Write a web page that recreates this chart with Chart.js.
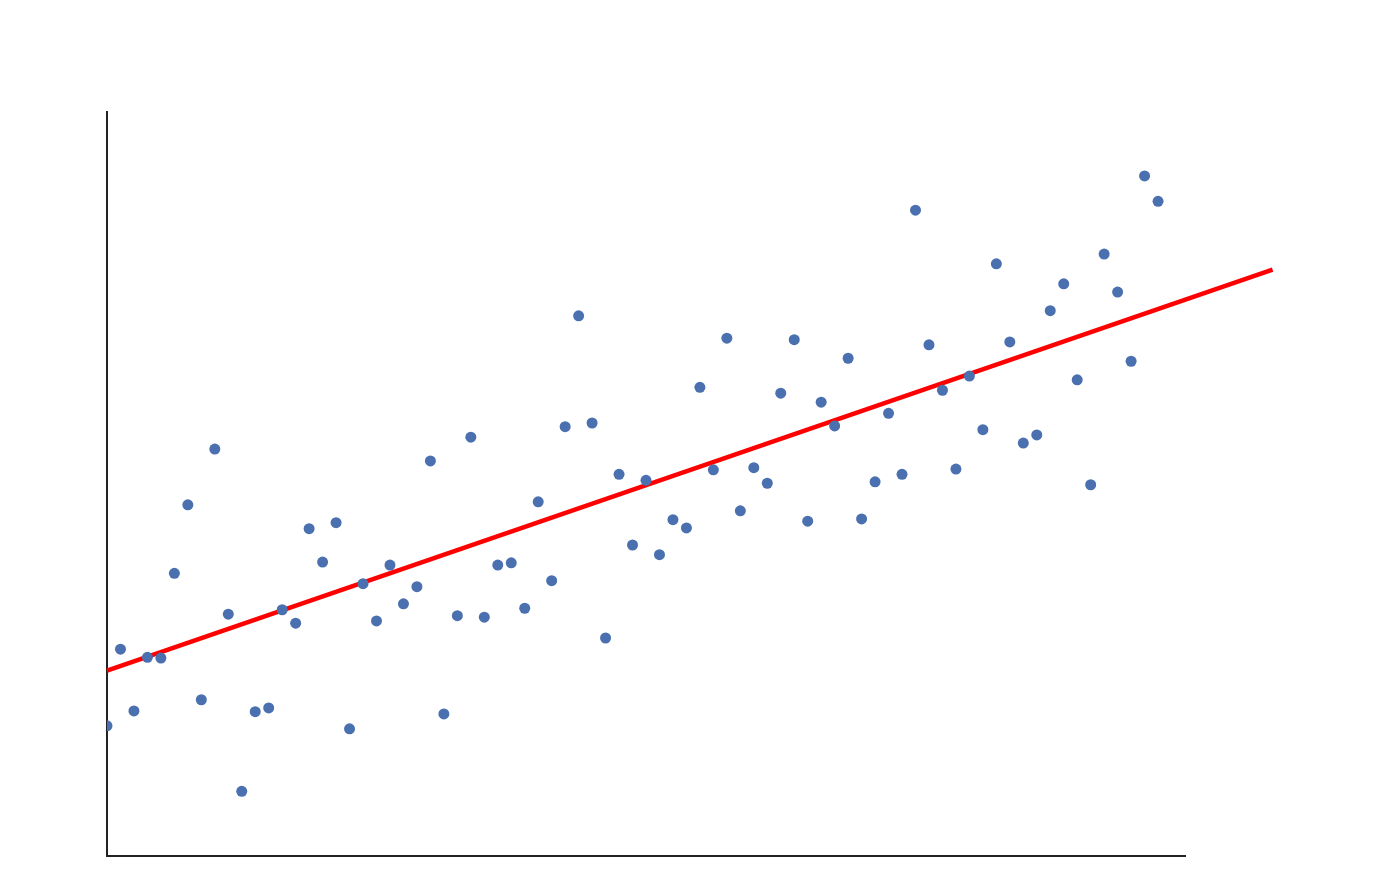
<!DOCTYPE html>
<html>
<head>
<meta charset="utf-8">
<script src="https://cdn.jsdelivr.net/npm/chart.js@4"></script>
<style>
  html, body { margin: 0; padding: 0; background: #fff; }
  #wrap { width: 1400px; height: 896px; }
</style>
</head>
<body>
<div id="wrap"><canvas id="scatterChart"></canvas></div>
<script>
// ======================================
// Data
// ======================================

const sampleY = [
  17.5, 27.8, 19.5, 26.7, 26.6, 38.0, 47.2, 21.0, 54.7, 32.5,
  8.7, 19.4, 19.9, 33.1, 31.3, 44.0, 39.5, 44.8, 17.1, 36.6,
  31.6, 39.1, 33.9, 36.2, 53.1, 19.1, 32.3, 56.3, 32.1, 39.1,
  39.4, 33.3, 47.6, 37.0, 57.7, 72.6, 58.2, 29.3, 51.3, 41.8,
  50.5, 40.5, 45.2, 44.1, 63.0, 51.9, 69.6, 46.4, 52.2, 50.1,
  62.2, 69.4, 45.0, 61.0, 57.8, 66.9, 45.3, 50.3, 59.5, 51.3,
  86.8, 68.7, 62.6, 52.0, 64.5, 57.3, 79.6, 69.1, 55.5, 56.6,
  73.3, 76.9, 64.0, 49.9, 80.9, 75.8, 66.5, 91.4, 88.0,
];

const trendX = [0, 86.5];
const trendY = [24.9, 78.8];

// ======================================
// Chart
// ======================================

const points = sampleY.map((y, i) => ({ x: i, y: y }));
const trend = trendX.map((x, i) => ({ x: x, y: trendY[i] }));

new Chart(document.getElementById("scatterChart"), {
  type: "scatter",

  data: {
    datasets: [
      {
        label: "Samples",
        data: points,
        backgroundColor: "#4a70b0",
        borderWidth: 0,
        pointRadius: 5.5,
        pointHoverRadius: 5.5,
        clip: 0,
        order: 1,
      },
      {
        type: "line",
        label: "Trend",
        data: trend,
        borderColor: "#ff0000",
        borderWidth: 4.5,
        pointRadius: 0,
        fill: false,
        clip: false,
        order: 2,
      },
    ],
  },

  options: {
    responsive: true,
    maintainAspectRatio: false,
    animation: false,
    layout: {
      padding: { left: 107, right: 215, top: 112, bottom: 40 },
    },
    plugins: {
      legend: { display: false },
      tooltip: { enabled: false },
    },
    scales: {
      x: {
        type: "linear",
        min: 0,
        max: 80.0,
        ticks: { display: false },
        grid: { display: false, drawTicks: false },
        border: { display: true, color: "#222", width: 2 },
      },
      y: {
        type: "linear",
        min: 0,
        max: 100,
        ticks: { display: false },
        grid: { display: false, drawTicks: false },
        border: { display: true, color: "#222", width: 2 },
      },
    },
  },
});
</script>
</body>
</html>
